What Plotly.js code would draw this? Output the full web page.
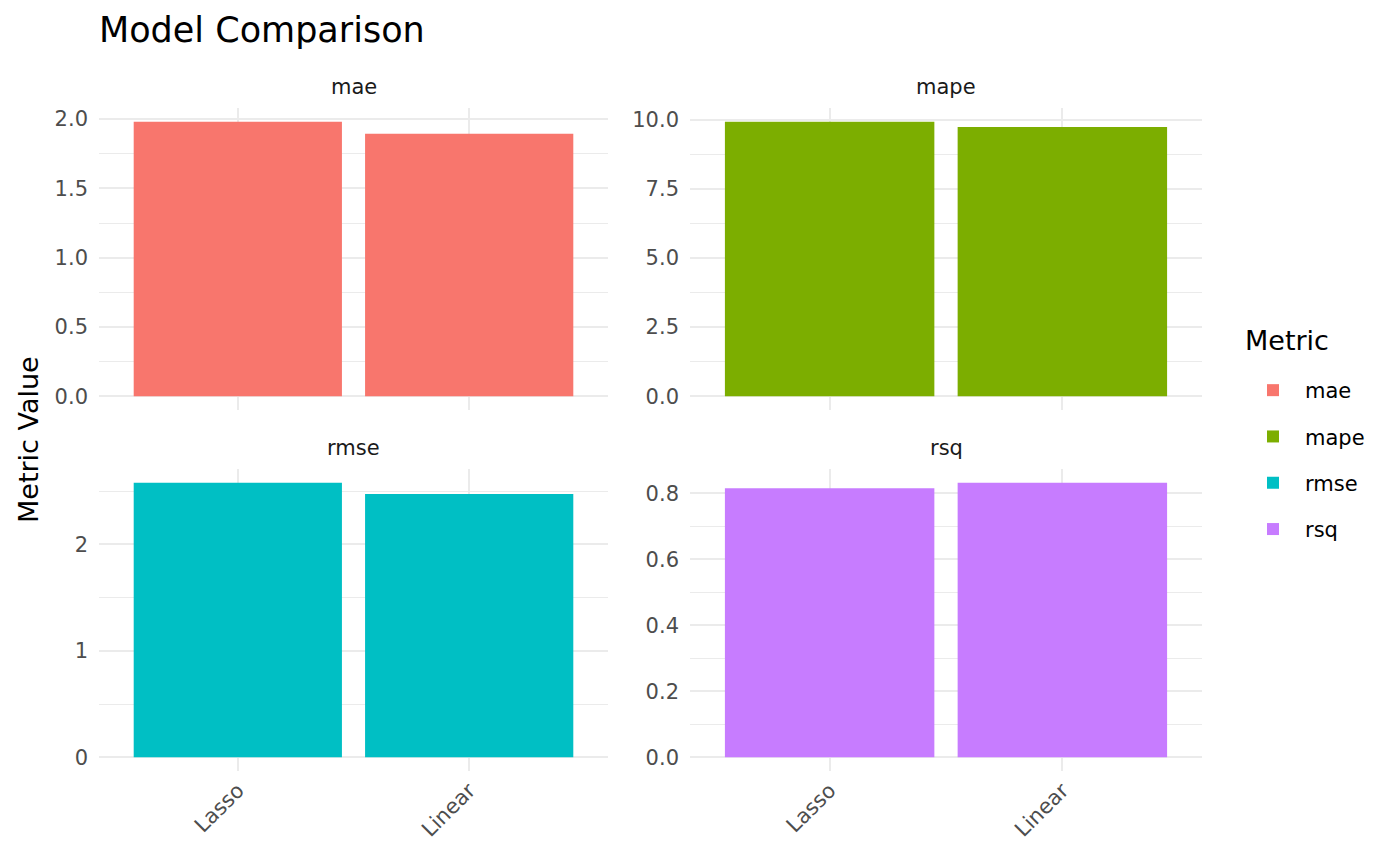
<!DOCTYPE html>
<html>
<head>
<meta charset="utf-8">
<script src="https://cdn.plot.ly/plotly-3.0.1.min.js"></script>
<style>
  html, body { margin: 0; padding: 0; background: #fff; }
  #chart { width: 1400px; height: 866px; }
</style>
</head>
<body>
<div id="chart"></div>
<script>
const models = ['Lasso', 'Linear'];
const metrics = ['mae', 'mape', 'rmse', 'rsq'];
const maeValues = [1.981, 1.894];
const mapeValues = [9.92, 9.73];
const rmseValues = [2.58, 2.475];
const rsqValues = [0.815, 0.832];

const seriesValues = [maeValues, mapeValues, rmseValues, rsqValues];
const colors = ['#F8766D', '#7CAE00', '#00BFC4', '#C77CFF'];
const majorStep = [0.5, 2.5, 1, 0.2];
const formats = ['.1f', '.1f', 'd', '.1f'];

const W = 1400, H = 866;
// panel boxes in pixels
const xDomains = [[99, 608], [690, 1202]];
const yDomains = [[108, 410], [469, 771]];
const px = v => v / W;
const py = v => 1 - v / H;

const font = 'DejaVu Sans, sans-serif';
const grid = '#ebebeb';
const tickSize = 21;

const data = [];
const layout = {
  width: W,
  height: H,
  margin: { l: 0, r: 0, t: 0, b: 0 },
  paper_bgcolor: '#fff',
  plot_bgcolor: '#fff',
  font: { family: font, color: '#4d4d4d' },
  showlegend: true,
  legend: {
    x: px(1241), y: py(370), xanchor: 'left', yanchor: 'top',
    font: { size: tickSize, color: '#000' },
    tracegroupgap: 16,
    itemwidth: 54
  },
  title: {
    text: 'Model Comparison',
    x: px(99), xanchor: 'left', xref: 'paper',
    y: py(30), yanchor: 'middle', yref: 'paper',
    font: { size: 35, color: '#000', family: font }
  },
  annotations: [{
    text: 'Metric Value', xref: 'paper', yref: 'paper',
    x: px(28), y: py(440), xanchor: 'center', yanchor: 'middle',
    textangle: -90, showarrow: false,
    font: { size: 27, color: '#000', family: font }
  }, {
    text: 'Metric', xref: 'paper', yref: 'paper',
    x: px(1243), y: py(341), xanchor: 'left', yanchor: 'middle',
    showarrow: false,
    font: { size: 27, color: '#000', family: font }
  }],
  bargap: 0.1
};

metrics.forEach((m, i) => {
  const col = i % 2, row = Math.floor(i / 2);
  const n = i + 1;
  const sfx = n === 1 ? '' : n;
  const vals = seriesValues[i];
  const vmax = Math.max(...vals);

  data.push({
    type: 'bar',
    name: m,
    legendgroup: m,
    x: models,
    y: vals,
    width: 0.9,
    marker: { color: colors[i], line: { width: 0 } },
    xaxis: 'x' + sfx,
    yaxis: 'y' + sfx,
    hoverinfo: 'x+y'
  });

  layout['xaxis' + sfx] = {
    domain: [px(xDomains[col][0]), px(xDomains[col][1])],
    anchor: 'y' + sfx,
    type: 'category',
    range: [-0.6, models.length - 0.4],
    showgrid: true, gridcolor: grid, gridwidth: 2,
    zeroline: false, showline: false, ticks: '',
    showticklabels: row === 1,
    tickangle: -45,
    tickfont: { size: tickSize, color: '#4d4d4d' },
    ticklabelstandoff: 2
  };

  layout['yaxis' + sfx] = {
    domain: [py(yDomains[row][1]), py(yDomains[row][0])],
    anchor: 'x' + sfx,
    range: [-0.05 * vmax, 1.05 * vmax],
    dtick: majorStep[i], tick0: 0,
    tickformat: formats[i],
    showgrid: true, gridcolor: grid, gridwidth: 2,
    minor: { dtick: majorStep[i] / 2, tick0: 0, showgrid: true, gridcolor: grid, gridwidth: 1 },
    zeroline: false, showline: false, ticks: '',
    tickfont: { size: tickSize, color: '#4d4d4d' },
    ticklabelstandoff: 10
  };

  layout.annotations.push({
    text: m, xref: 'paper', yref: 'paper',
    x: (px(xDomains[col][0]) + px(xDomains[col][1])) / 2,
    y: py(yDomains[row][0] - 21),
    xanchor: 'center', yanchor: 'middle',
    showarrow: false,
    font: { size: tickSize, color: '#1a1a1a', family: font }
  });
});

Plotly.newPlot('chart', data, layout, { displayModeBar: false, staticPlot: true });
</script>
</body>
</html>
